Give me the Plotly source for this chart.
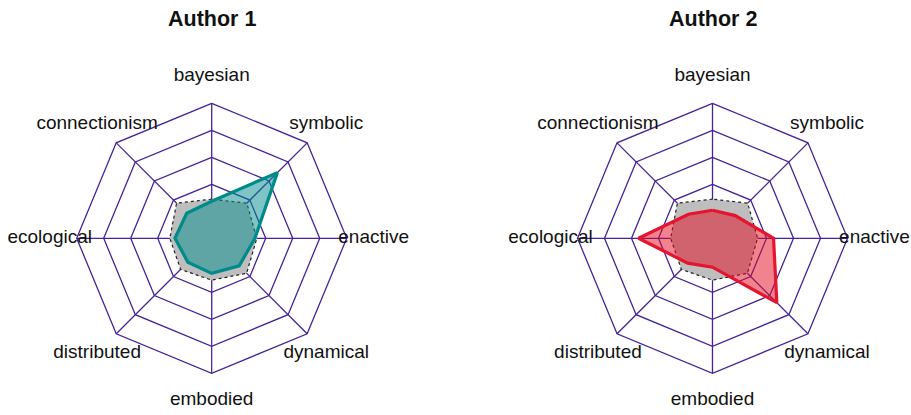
import math
import plotly.graph_objects as go

# ---- data -------------------------------------------------------------
categories = ["bayesian", "connectionism", "ecological", "distributed",
              "embodied", "dynamical", "enactive", "symbolic"]
average_vals = [0.45, 0.84, 0.55, 0.63, 0.55, 0.83, 0.67, 0.84]
author1_vals = [0.37, 0.31, 0.36, 0.25, 0.30, 0.44, 0.60, 2.44]
author2_vals = [0.04, 0.26, 1.74, 0.30, 0.07, 2.37, 1.26, 0.19]
titles = ["Author 1", "Author 2"]
ring_vals = [0, 1, 2, 3, 4]
VMIN, VMAX, SEG = 0, 4, 4

# ---- styling ----------------------------------------------------------
GRID = "#46239A"
FONT = "Liberation Sans, Arial, sans-serif"
series_line = ["#008B8B", "#E5142F"]
series_fill = ["rgba(0,139,139,0.5)", "rgba(226,8,30,0.5)"]
LABEL_R = 1.2


def frac(v):
    # fmsb-style radial scaling: centre gap of one segment
    return (1 + SEG * (v - VMIN) / (VMAX - VMIN)) / (SEG + 1)


n = len(categories)
angles = [math.radians(90 + 360 * i / n) for i in range(n)]


def polygon(vals):
    xs = [frac(v) * math.cos(a) for v, a in zip(vals, angles)]
    ys = [frac(v) * math.sin(a) for v, a in zip(vals, angles)]
    return xs + xs[:1], ys + ys[:1]


fig = go.Figure()
PX = 135.0
W, H = 911, 415
centers_px = [211.7, 712.5]
cy_px = 238.3
dom_w = 0.43

for k in range(2):
    xa = "x" if k == 0 else "x2"
    ya = "y" if k == 0 else "y2"
    # rings
    for rv in ring_vals:
        f = frac(rv)
        xs = [f * math.cos(a) for a in angles]
        ys = [f * math.sin(a) for a in angles]
        fig.add_trace(go.Scatter(x=xs + xs[:1], y=ys + ys[:1], mode="lines",
                                 line=dict(color=GRID, width=1.3),
                                 hoverinfo="skip", showlegend=False,
                                 xaxis=xa, yaxis=ya))
    # spokes
    sx, sy = [], []
    for a in angles:
        sx += [0, math.cos(a), None]
        sy += [0, math.sin(a), None]
    fig.add_trace(go.Scatter(x=sx, y=sy, mode="lines",
                             line=dict(color=GRID, width=1.3),
                             hoverinfo="skip", showlegend=False,
                             xaxis=xa, yaxis=ya))
    # average polygon
    ax_, ay_ = polygon(average_vals)
    fig.add_trace(go.Scatter(x=ax_, y=ay_, mode="lines", fill="toself",
                             fillcolor="#BEBEBE",
                             line=dict(color="#222222", width=1.2, dash="dot"),
                             showlegend=False, xaxis=xa, yaxis=ya))
    # author polygon
    vals = author1_vals if k == 0 else author2_vals
    px_, py_ = polygon(vals)
    fig.add_trace(go.Scatter(x=px_, y=py_, mode="lines", fill="toself",
                             fillcolor=series_fill[k],
                             line=dict(color=series_line[k], width=3.2),
                             showlegend=False, xaxis=xa, yaxis=ya))
    # labels
    fig.add_trace(go.Scatter(x=[LABEL_R * math.cos(a) for a in angles],
                             y=[LABEL_R * math.sin(a) for a in angles],
                             mode="text", text=categories,
                             textposition="middle center",
                             textfont=dict(family=FONT, size=19, color="#111111"),
                             cliponaxis=False, hoverinfo="skip",
                             showlegend=False, xaxis=xa, yaxis=ya))
    # title
    fig.add_annotation(x=0, y=1 - 18.5 / H, xref=xa, yref="paper",
                       text="<b>" + titles[k] + "</b>", showarrow=False,
                       xanchor="center", yanchor="middle",
                       font=dict(family=FONT, size=21.5, color="#111111"))

half_w = dom_w * W / 2 / PX
y_lo = -(H - cy_px) / PX
y_hi = cy_px / PX
axis_common = dict(showgrid=False, zeroline=False, showticklabels=False,
                   showline=False, ticks="", fixedrange=True)
layout = dict(width=W, height=H, margin=dict(l=0, r=0, t=0, b=0),
              paper_bgcolor="white", plot_bgcolor="white", showlegend=False)
for k in range(2):
    c = centers_px[k] / W
    xkey = "xaxis" if k == 0 else "xaxis2"
    ykey = "yaxis" if k == 0 else "yaxis2"
    layout[xkey] = dict(domain=[c - dom_w / 2, c + dom_w / 2],
                        range=[-half_w, half_w], anchor="y" if k == 0 else "y2",
                        **axis_common)
    layout[ykey] = dict(domain=[0, 1], range=[y_lo, y_hi],
                        anchor="x" if k == 0 else "x2", **axis_common)
fig.update_layout(**layout)

fig.write_html("out.html", config={"displayModeBar": False},
               post_script="document.body.style.margin='0';"
                           "document.body.style.overflow='hidden';")
